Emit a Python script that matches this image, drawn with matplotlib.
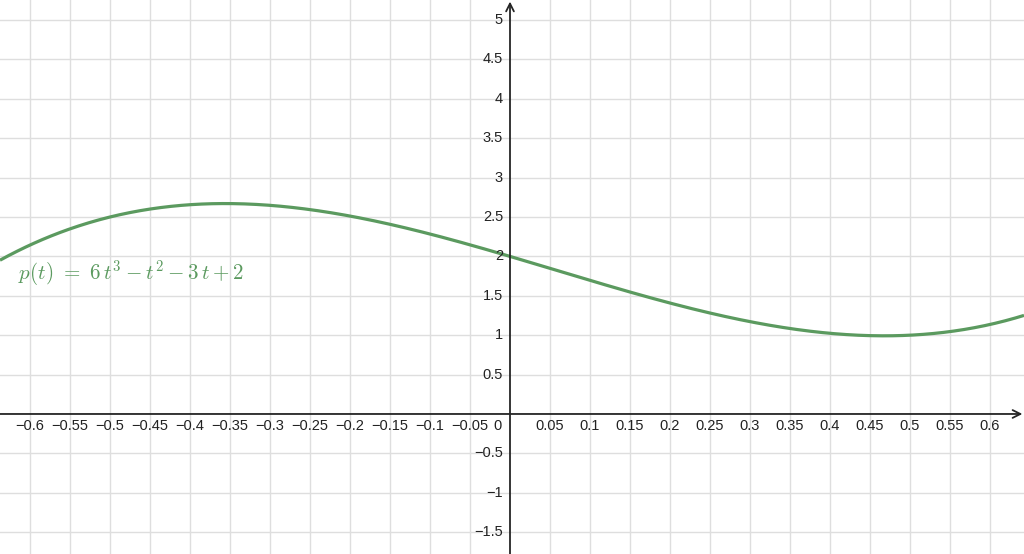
import numpy as np
import matplotlib
from matplotlib import pyplot as plt
from matplotlib import transforms

matplotlib.use("Agg")

# p(t) = 6 t^3 - t^2 - 3 t + 2  (coefficients from the label)
coeffs = [6, -1, -3, 2]
x_ticks = [-0.6, -0.55, -0.5, -0.45, -0.4, -0.35, -0.3, -0.25, -0.2, -0.15, -0.1, -0.05,
           0.05, 0.1, 0.15, 0.2, 0.25, 0.3, 0.35, 0.4, 0.45, 0.5, 0.55, 0.6]
y_ticks = [-1.5, -1, -0.5, 0.5, 1, 1.5, 2, 2.5, 3, 3.5, 4, 4.5, 5]
curve_label = r"$p(t)\ =\ 6\,t^3 - t^2 - 3\,t + 2$"

xmin, xmax = -0.6375, 0.6425
ymin, ymax = -1.777, 5.254

green = "#5b9a5f"
axis_col = "#252525"

plt.rcParams["font.family"] = ["Liberation Sans", "DejaVu Sans"]
plt.rcParams["mathtext.fontset"] = "cm"

fig = plt.figure(figsize=(10.24, 5.54), dpi=100)
ax = fig.add_axes([0, 0, 1, 1])
ax.set_xlim(xmin, xmax)
ax.set_ylim(ymin, ymax)
for s in ax.spines.values():
    s.set_visible(False)

# grid
ax.set_xticks(x_ticks)
ax.set_yticks(y_ticks)
ax.tick_params(length=0, labelbottom=False, labelleft=False)
ax.grid(True, color="#dedede", linewidth=1.0)


def fmt(v):
    return f"{v:g}".replace("-", "\u2212")


# axes with arrows
ax.annotate("", xy=(xmax - 0.002, 0), xytext=(xmin, 0),
            arrowprops=dict(arrowstyle="->", color=axis_col, lw=1.3,
                            shrinkA=0, shrinkB=0, mutation_scale=14))
ax.annotate("", xy=(0, ymax - 0.02), xytext=(0, ymin),
            arrowprops=dict(arrowstyle="->", color=axis_col, lw=1.3,
                            shrinkA=0, shrinkB=0, mutation_scale=14))

# tick labels
fs = 10.5
off_x = transforms.offset_copy(ax.transData, fig=fig, x=0, y=-8.5, units="points")
for v in x_ticks:
    ax.text(v, 0, fmt(v), transform=off_x, ha="center", va="center", fontsize=fs, color="#222222")
ax.text(0, 0, "0", transform=transforms.offset_copy(ax.transData, fig=fig, x=-9, y=-8.5, units="points"),
        ha="center", va="center", fontsize=fs, color="#222222")
off_y = transforms.offset_copy(ax.transData, fig=fig, x=-5, y=0, units="points")
for v in y_ticks:
    ax.text(0, v, fmt(v), transform=off_y, ha="right", va="center", fontsize=fs, color="#222222")

# curve
t = np.linspace(xmin, xmax, 600)
ax.plot(t, np.polyval(coeffs, t), color=green, lw=2.3, solid_capstyle="butt")

ax.text(-0.6155, 1.79, curve_label, color=green, fontsize=15.2, ha="left", va="center")

plt.savefig("out.png", dpi=100)
plt.close(fig)
